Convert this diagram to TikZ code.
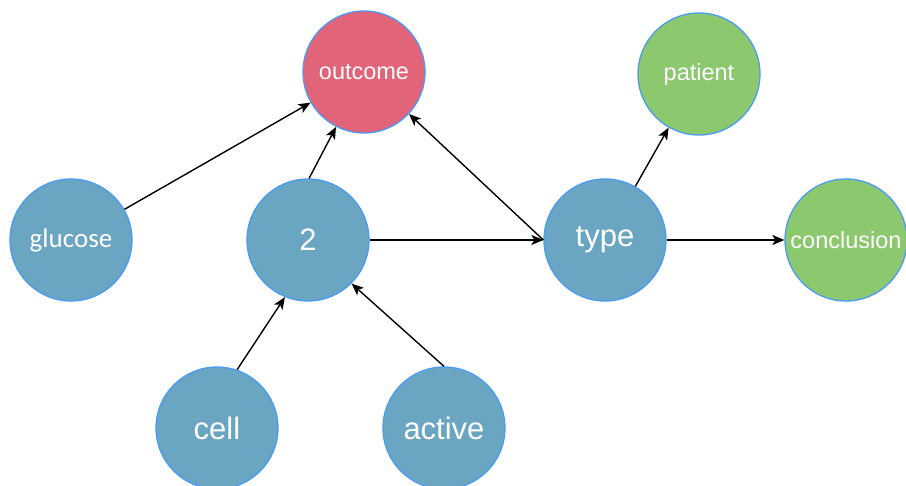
\documentclass[tikz,border=0pt]{standalone}
\usepackage{fontspec}
\newfontfamily\labelfont{Liberation Sans}
\newfontfamily\carlito{Carlito}
\usetikzlibrary{arrows.meta}
\definecolor{nodeblue}{RGB}{106,165,193}
\definecolor{nodered}{RGB}{226,100,120}
\definecolor{nodegreen}{RGB}{139,200,110}
\definecolor{rimblue}{RGB}{74,155,245}
\begin{document}
\begin{tikzpicture}[x=1pt,y=-1pt,
  vertex/.style={circle,draw=rimblue,line width=1.3pt,minimum size=122pt,inner sep=0pt,text=white},
  smalltext/.style={font=\labelfont\fontsize{23.5}{28}\selectfont},
  bigtext/.style={font=\labelfont\fontsize{31}{36}\selectfont},
  link/.style={line width=1.4pt,-{Stealth[length=12pt,width=10pt,inset=3pt]}}]
\useasboundingbox (0,0) rectangle (906,486);
% nodes
\node[vertex,fill=nodered,smalltext] (outcome) at (364,72) {outcome};
\node[vertex,fill=nodegreen,smalltext] (patient) at (699,74) {patient};
\node[vertex,fill=nodeblue,font=\carlito\fontsize{27}{32}\selectfont] (glucose) at (71,240) {glucose};
\node[vertex,fill=nodeblue,bigtext] (n2) at (308,240) {2};
\node[vertex,fill=nodeblue,bigtext] (type) at (605,240) {type};
\node[vertex,fill=nodegreen,smalltext] (conclusion) at (846,240) {conclusion};
\node[vertex,fill=nodeblue,bigtext] (cell) at (217,428) {cell};
\node[vertex,fill=nodeblue,bigtext] (active) at (444,428) {active};
% connectors
\draw[link] (glucose) -- (outcome);
\draw[link] (n2.89) -- (outcome.-117);
\draw[link] (type.west) -- (outcome.-43);
\draw[link] (n2.east) -- (type.west);
\draw[link] (type) -- (patient);
\draw[link] (type.east) -- (conclusion.west);
\draw[link] (cell.71) -- (n2.-112);
\draw[link] (active.north) -- (n2.-45);
\end{tikzpicture}
\end{document}
